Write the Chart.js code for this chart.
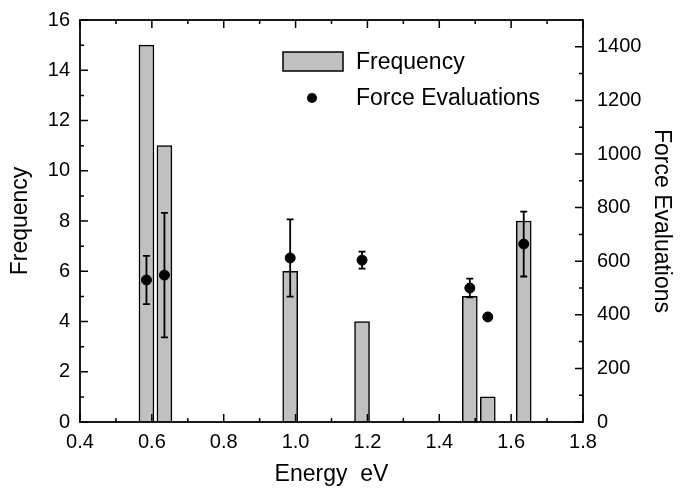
<!DOCTYPE html>
<html>
<head>
<meta charset="utf-8">
<script src="https://cdn.jsdelivr.net/npm/chart.js@4"></script>
<style>
  body { margin: 0; background: #fff; }
  #wrap { width: 680px; height: 489px; }
</style>
</head>
<body>
<div id="wrap"><canvas id="grafico"></canvas></div>
<script>
// dados
const energias = [0.585, 0.635, 0.985, 1.185, 1.485, 1.535, 1.635];
const frequencias = [15, 11, 6, 4, 5, 1, 8];
const avaliacoes = [530, 548, 612, 604, 500, 392, 664];
const erros = [90, 232, 144, 32, 35, 0, 121];
const ticksX = [0.4, 0.6, 0.8, 1.0, 1.2, 1.4, 1.6, 1.8];
const ticksFreq = [0, 2, 4, 6, 8, 10, 12, 14, 16];
const ticksForca = [0, 200, 400, 600, 800, 1000, 1200, 1400];

const fonte = "'Liberation Sans', Arial, sans-serif";

const barras = energias.map((e, i) => ({ x: e, y: frequencias[i] }));
const pontos = energias.map((e, i) => ({ x: e, y: avaliacoes[i] }));

// moldura, marcas para dentro, barras de erro e legenda
const extras = {
  id: 'extras',
  afterDatasetsDraw(chart) {
    const ctx = chart.ctx;
    const a = chart.chartArea;
    const sx = chart.scales.x, sy = chart.scales.y, sy2 = chart.scales.y2;
    ctx.save();
    ctx.strokeStyle = '#000';

    // barras de erro
    ctx.lineWidth = 1.8;
    energias.forEach((e, i) => {
      if (!erros[i]) return;
      const px = sx.getPixelForValue(e);
      const t = sy2.getPixelForValue(avaliacoes[i] + erros[i]);
      const b = sy2.getPixelForValue(avaliacoes[i] - erros[i]);
      ctx.beginPath();
      ctx.moveTo(px, t); ctx.lineTo(px, b);
      ctx.moveTo(px - 3.5, t); ctx.lineTo(px + 3.5, t);
      ctx.moveTo(px - 3.5, b); ctx.lineTo(px + 3.5, b);
      ctx.stroke();
    });

    // marcas
    ctx.lineWidth = 1.5;
    ctx.beginPath();
    for (let k = 4; k <= 18; k++) {
      const px = sx.getPixelForValue(k / 10);
      const len = k % 2 === 0 ? 8 : 4;
      ctx.moveTo(px, a.bottom); ctx.lineTo(px, a.bottom - len);
      ctx.moveTo(px, a.top); ctx.lineTo(px, a.top + len);
    }
    for (let v = 0; v <= 16; v++) {
      const py = sy.getPixelForValue(v);
      const len = v % 2 === 0 ? 8 : 4;
      ctx.moveTo(a.left, py); ctx.lineTo(a.left + len, py);
    }
    for (let v = 0; v <= 1500; v += 100) {
      const py = sy2.getPixelForValue(v);
      const len = v % 200 === 0 ? 8 : 4;
      ctx.moveTo(a.right, py); ctx.lineTo(a.right - len, py);
    }
    ctx.stroke();

    // moldura
    ctx.lineWidth = 1.8;
    ctx.strokeRect(a.left, a.top, a.right - a.left, a.bottom - a.top);

    // legenda
    const ds = chart.data.datasets;
    ctx.fillStyle = '#c0c0c0';
    ctx.lineWidth = 1.5;
    ctx.fillRect(283, 52, 60, 19);
    ctx.strokeRect(283, 52, 60, 19);
    ctx.fillStyle = '#000';
    ctx.beginPath();
    ctx.arc(312, 98, 5, 0, Math.PI * 2);
    ctx.fill();
    ctx.font = '23px ' + fonte;
    ctx.textBaseline = 'middle';
    ctx.fillText(ds[1].label, 356, 63);
    ctx.fillText(ds[0].label, 356, 99);
    ctx.restore();
  }
};

new Chart(document.getElementById('grafico'), {
  data: {
    datasets: [
      {
        type: 'scatter',
        label: 'Force Evaluations',
        data: pontos,
        yAxisID: 'y2',
        backgroundColor: '#000',
        borderColor: '#000',
        pointRadius: 5,
        order: 0
      },
      {
        type: 'bar',
        label: 'Frequency',
        data: barras,
        yAxisID: 'y',
        backgroundColor: '#c0c0c0',
        borderColor: '#000',
        borderWidth: 1.5,
        barThickness: 15,
        order: 1
      }
    ]
  },
  options: {
    responsive: true,
    maintainAspectRatio: false,
    animation: false,
    layout: { padding: { top: 20, right: 0, left: 0, bottom: 0 } },
    plugins: { legend: { display: false }, tooltip: { enabled: false } },
    scales: {
      x: {
        type: 'linear',
        min: 0.4,
        max: 1.8,
        offset: false,
        grid: { display: false, drawTicks: false },
        border: { display: false },
        afterBuildTicks: s => { s.ticks = ticksX.map(v => ({ value: v })); },
        afterFit: s => { s.height = 67; s.paddingLeft = 0; s.paddingRight = 0; },
        ticks: {
          padding: 8,
          color: '#000',
          maxRotation: 0,
          font: { family: fonte, size: 20 },
          callback: v => v.toFixed(1)
        },
        title: {
          display: true,
          text: 'Energy  eV',
          color: '#000',
          font: { family: fonte, size: 23 },
          padding: { top: 0, bottom: 1 }
        }
      },
      y: {
        position: 'left',
        min: 0,
        max: 16,
        grid: { display: false, drawTicks: false },
        border: { display: false },
        afterBuildTicks: s => { s.ticks = ticksFreq.map(v => ({ value: v })); },
        afterFit: s => { s.width = 80; s.paddingTop = 0; s.paddingBottom = 0; },
        ticks: { padding: 10, color: '#000', font: { family: fonte, size: 20 } },
        title: {
          display: true,
          text: 'Frequency',
          color: '#000',
          font: { family: fonte, size: 23 },
          padding: { top: 7, bottom: 4 }
        }
      },
      y2: {
        position: 'right',
        min: 0,
        max: 1500,
        grid: { display: false, drawTicks: false },
        border: { display: false },
        afterBuildTicks: s => { s.ticks = ticksForca.map(v => ({ value: v })); },
        afterFit: s => { s.width = 97; s.paddingTop = 0; s.paddingBottom = 0; },
        ticks: {
          padding: 14,
          color: '#000',
          font: { family: fonte, size: 20 },
          callback: v => String(v)
        },
        title: {
          display: true,
          text: 'Force Evaluations',
          color: '#000',
          font: { family: fonte, size: 23 },
          padding: { top: 5, bottom: 6 }
        }
      }
    }
  },
  plugins: [extras]
});
</script>
</body>
</html>
